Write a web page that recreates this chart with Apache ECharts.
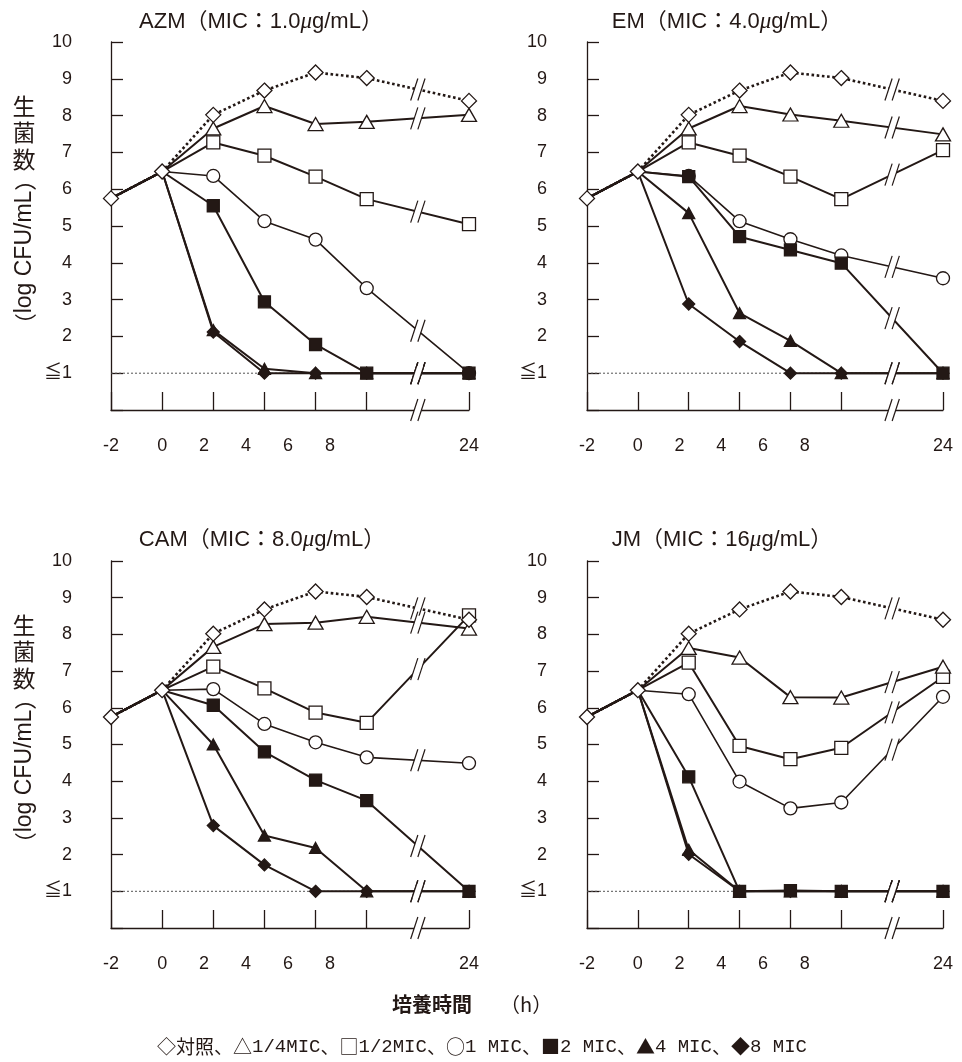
<!DOCTYPE html>
<html><head><meta charset="utf-8">
<script src="https://cdn.jsdelivr.net/npm/echarts@6/dist/echarts.min.js"></script>
<style>html,body{margin:0;padding:0;background:#fff}#c{width:962px;height:1062px}</style>
</head><body><div id="c"></div>
<script>
// plotted slot of each sampling time (-2, 0, 2.5, 5, 7.5, 10, 24 h); slot 6 is the axis break
const slots = [0, 1, 2, 3, 4, 5, 7];
const xTickSlots = [0, 1, 2, 3, 4, 5, 7];
const xLabelSlots = [0, 1, 1.82, 2.64, 3.46, 4.28, 7];
const xLabels = ['-2', '0', '2', '4', '6', '8', '24'];
const yLabels = ['', '≦1', '2', '3', '4', '5', '6', '7', '8', '9', '10'];
const detectionLimit = 1;
const seriesNames = ['対照', '1/4MIC', '1/2MIC', '1 MIC', '2 MIC', '4 MIC', '8 MIC'];
const legendMarks = ['◇', '△', '□', '○', '■', '▲', '◆'];
const panelTitles = ['AZM（MIC：1.0μg/mL）', 'EM（MIC：4.0μg/mL）', 'CAM（MIC：8.0μg/mL）', 'JM（MIC：16μg/mL）'];

const control = [5.75, 6.48, 8.02, 8.68, 9.17, 9.02, 8.40];

const azmQuarter = [5.75, 6.48, 7.65, 8.26, 7.77, 7.83, 8.02];
const azmHalf    = [5.75, 6.48, 7.27, 6.91, 6.34, 5.73, 5.05];
const azm1       = [5.75, 6.48, 6.36, 5.13, 4.63, 3.31, 1.0];
const azm2       = [5.75, 6.48, 5.55, 2.94, 1.78, 1.0, 1.0];
const azm4       = [5.75, 6.48, 2.17, 1.12, 1.0, 1.0, 1.0];
const azm8       = [5.75, 6.48, 2.12, 1.0, 1.0, 1.0, 1.0];

const emQuarter = [5.75, 6.48, 7.65, 8.26, 8.03, 7.86, 7.49];
const emHalf    = [5.75, 6.48, 7.27, 6.91, 6.34, 5.73, 7.06];
const em1       = [5.75, 6.48, 6.36, 5.13, 4.64, 4.20, 3.58];
const em2       = [5.75, 6.48, 6.34, 4.71, 4.35, 3.99, 1.0];
const em4       = [5.75, 6.48, 5.35, 2.63, 1.88, 1.0, 1.0];
const em8       = [5.75, 6.48, 2.88, 1.86, 1.0, 1.0, 1.0];

const camQuarter = [5.75, 6.48, 7.66, 8.28, 8.32, 8.48, 8.16];
const camHalf    = [5.75, 6.48, 7.12, 6.53, 5.87, 5.59, 8.52];
const cam1       = [5.75, 6.48, 6.51, 5.56, 5.06, 4.65, 4.49];
const cam2       = [5.75, 6.48, 6.07, 4.80, 4.03, 3.47, 1.0];
const cam4       = [5.75, 6.48, 5.00, 2.52, 2.18, 1.0, 1.0];
const cam8       = [5.75, 6.48, 2.79, 1.72, 1.0, 1.0, 1.0];

const jmQuarter = [5.75, 6.48, 7.63, 7.37, 6.29, 6.28, 7.12];
const jmHalf    = [5.75, 6.48, 7.23, 4.96, 4.60, 4.91, 6.84];
const jm1       = [5.75, 6.48, 6.37, 3.99, 3.26, 3.42, 6.30];
const jm2       = [5.75, 6.48, 4.12, 1.0, 1.02, 1.0, 1.0];
const jm4       = [5.75, 6.48, 2.13, 1.0, 1.0, 1.0, 1.0];
const jm8       = [5.75, 6.48, 2.01, 1.0, 1.0, 1.0, 1.0];

const panels = [
  [control, azmQuarter, azmHalf, azm1, azm2, azm4, azm8],
  [control, emQuarter, emHalf, em1, em2, em4, em8],
  [control, camQuarter, camHalf, cam1, cam2, cam4, cam8],
  [control, jmQuarter, jmHalf, jm1, jm2, jm4, jm8]
];

const ink = '#231815';
const latin = '"Liberation Sans", Arial, "Noto Sans CJK JP", sans-serif';
const cjk = '"Noto Sans CJK JP", sans-serif';
const mono = '"Liberation Mono", monospace';

const grids = [
  {left: 111, top: 42, width: 358, height: 368},
  {left: 587, top: 42, width: 356, height: 368},
  {left: 111, top: 561, width: 358, height: 367},
  {left: 587, top: 561, width: 356, height: 367}
];
const yOffsets = [30, 31, 30, 31];
const titlePos = [[261, 22], [727, 22], [262, 540], [722, 540]];

const styles = [
  {symbol: 'diamond', size: [15, 15], fill: '#fff', width: 2.6, dash: [2.6, 2.6]},
  {symbol: 'triangle', size: [15, 13], fill: '#fff', width: 2},
  {symbol: 'rect', size: [13, 13], fill: '#fff', width: 2},
  {symbol: 'circle', size: [13, 13], fill: '#fff', width: 1.6},
  {symbol: 'rect', size: [12, 12], fill: ink, width: 2},
  {symbol: 'triangle', size: [12, 11], fill: ink, width: 2},
  {symbol: 'diamond', size: [12, 12], fill: ink, width: 2}
];
const drawOrder = [3, 5, 6, 4, 2, 1, 0];

const xAxes = [], yAxes = [], series = [], graphics = [];

function breakItem(params, api) {
  const p = api.coord([api.value(0), api.value(1)]);
  const h = 11, s = 3.6, g = 3.6, fh = 7, fs = s * fh / h;
  return {type: 'group', children: [
    {type: 'polygon', shape: {points: [[p[0] - g + fs, p[1] - fh], [p[0] + g + fs, p[1] - fh], [p[0] + g - fs, p[1] + fh], [p[0] - g - fs, p[1] + fh]]}, style: {fill: '#fff'}},
    {type: 'line', shape: {x1: p[0] - g - s, y1: p[1] + h, x2: p[0] - g + s, y2: p[1] - h}, style: {stroke: ink, lineWidth: 1.2}},
    {type: 'line', shape: {x1: p[0] + g - s, y1: p[1] + h, x2: p[0] + g + s, y2: p[1] - h}, style: {stroke: ink, lineWidth: 1.2}}
  ]};
}

panels.forEach((data, pi) => {
  xAxes.push({
    gridIndex: pi, type: 'value', min: 0, max: 7,
    axisLine: {show: true, onZero: false, lineStyle: {color: ink, width: 1.3}},
    axisTick: {show: true, inside: true, length: 18, customValues: xTickSlots, lineStyle: {color: ink, width: 1.3}},
    axisLabel: {customValues: xLabelSlots, margin: 27, fontSize: 18, color: ink, fontFamily: latin,
      formatter: v => { const i = xLabelSlots.indexOf(v); return i >= 0 ? xLabels[i] : ''; }},
    splitLine: {show: false}
  });
  yAxes.push({
    gridIndex: pi, type: 'value', min: 0, max: 10, interval: 1, offset: yOffsets[pi],
    axisLine: {show: true, lineStyle: {color: ink, width: 1.3}},
    axisTick: {show: true, inside: true, length: 12, lineStyle: {color: ink, width: 1.3}},
    axisLabel: {margin: 9, fontSize: 18, color: ink, fontFamily: latin, formatter: v => yLabels[v] || ''},
    splitLine: {show: false}
  });
  series.push({
    type: 'line', xAxisIndex: pi, yAxisIndex: pi, silent: true, symbol: 'none', z: 1,
    data: [[slots[0], detectionLimit], [slots[slots.length - 1], detectionLimit]],
    lineStyle: {color: '#555', width: 1, type: [2, 2]}
  });
  drawOrder.forEach((si, k) => {
    const st = styles[si];
    series.push({
      name: seriesNames[si], type: 'line', xAxisIndex: pi, yAxisIndex: pi, clip: false,
      z: 2 + k * 0.01, symbol: st.symbol, symbolSize: st.size, showAllSymbol: true,
      data: data[si].map((v, i) => {
        const item = {value: [slots[i], v]};
        if (si !== 0 && i < 2) item.symbol = 'none';
        return item;
      }),
      lineStyle: {color: ink, width: st.width, type: st.dash || 'solid'},
      itemStyle: {color: st.fill, borderColor: ink, borderWidth: 1.3},
      emphasis: {disabled: true}
    });
  });
  const breaks = data.map(arr => [6, (arr[5] + arr[6]) / 2]);
  breaks.push([6, 0]);
  series.push({
    type: 'custom', xAxisIndex: pi, yAxisIndex: pi, z: 5, clip: false, silent: true,
    renderItem: breakItem, data: breaks
  });
  const t = panelTitles[pi].split('μ');
  graphics.push({
    type: 'text', x: titlePos[pi][0], y: titlePos[pi][1],
    style: {
      text: '{n|' + t[0] + '}{mu|μ}{n|' + t[1] + '}',
      align: 'center', verticalAlign: 'middle',
      rich: {
        n: {fontSize: 22, fontFamily: latin, fill: ink},
        mu: {fontSize: 23, fontFamily: '"Liberation Serif", serif', fontStyle: 'italic', fill: ink}
      }
    }
  });
});

// y-axis names for the left panels
[0, 519].forEach(dy => {
  ['生', '菌', '数'].forEach((ch, i) => {
    graphics.push({type: 'text', x: 24, y: 106 + dy + i * 26.5,
      style: {text: ch, fontSize: 23, fontFamily: cjk, fill: ink, align: 'center', verticalAlign: 'middle'}});
  });
  graphics.push({type: 'text', x: 25, y: 252 + dy, rotation: Math.PI / 2,
    style: {text: '{p|（}{t|log CFU/mL}{p|）}', align: 'center', verticalAlign: 'middle',
      rich: {p: {fontSize: 22, fontFamily: cjk, fill: ink}, t: {fontSize: 23, fontFamily: latin, fill: ink}}}});
});

graphics.push({type: 'text', x: 432, y: 1004,
  style: {text: '培養時間', fontSize: 20, fontWeight: 'bold', fontFamily: cjk, fill: ink, align: 'center', verticalAlign: 'middle'}});
graphics.push({type: 'text', x: 500, y: 1004,
  style: {text: '（h）', fontSize: 20, fontFamily: cjk, fill: ink, align: 'left', verticalAlign: 'middle'}});

const legendText = legendMarks.map((m, i) => {
  const lab = seriesNames[i];
  const part = /^[\x00-\x7F]+$/.test(lab) ? '{lat|' + lab + '}' : '{jp|' + lab + '}';
  return '{sym|' + m + '}' + part + (i < legendMarks.length - 1 ? '{jp|、}' : '');
}).join('');
graphics.push({type: 'text', x: 482, y: 1047,
  style: {text: legendText, align: 'center', verticalAlign: 'middle',
    rich: {
      sym: {fontSize: 19, fontFamily: cjk, fill: ink},
      jp: {fontSize: 19, fontFamily: cjk, fill: ink},
      lat: {fontSize: 19, fontFamily: mono, fill: ink}
    }}});

const chart = echarts.init(document.getElementById('c'), null, {renderer: 'canvas'});
chart.setOption({
  animation: false,
  backgroundColor: '#fff',
  grid: grids,
  xAxis: xAxes,
  yAxis: yAxes,
  series: series,
  graphic: graphics
});
</script></body></html>
